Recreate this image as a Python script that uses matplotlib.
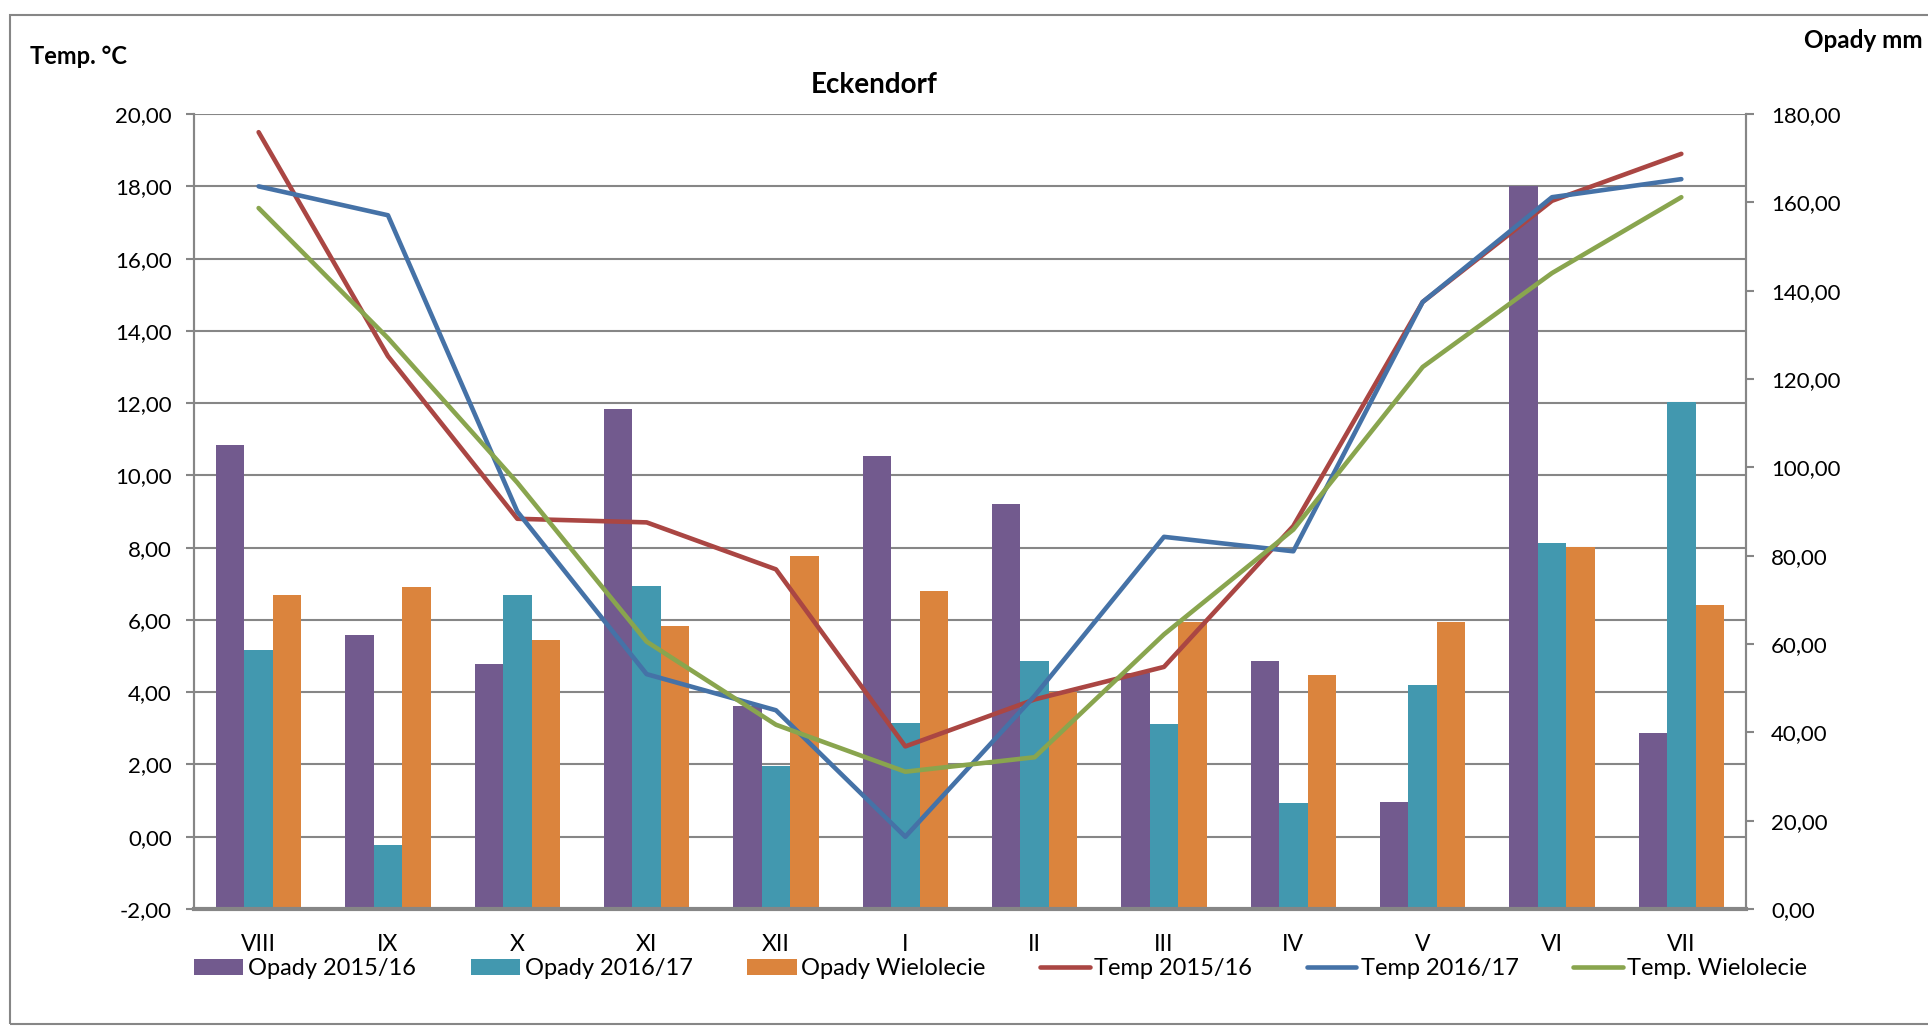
import numpy as np
import matplotlib.pyplot as plt
from matplotlib.patches import Rectangle

plt.rcParams['font.family'] = ['Lato', 'DejaVu Sans']

months = ['VIII', 'IX', 'X', 'XI', 'XII', 'I', 'II', 'III', 'IV', 'V', 'VI', 'VII']

# opady (mm) - prawa oś
opady_1516 = [105.1, 62.1, 55.4, 113.3, 45.9, 102.5, 91.8, 53.5, 56.1, 24.2, 163.7, 39.9]
opady_1617 = [58.6, 14.5, 71.1, 73.2, 32.4, 42.2, 56.2, 41.8, 24.0, 50.7, 82.9, 114.7]
opady_wiel = [71.1, 73.0, 61.0, 64.0, 80.0, 71.9, 49.1, 65.1, 53.0, 65.1, 81.9, 68.9]

# temperatura (C) - lewa oś
temp_1516 = [19.5, 13.3, 8.8, 8.7, 7.4, 2.5, 3.8, 4.7, 8.6, 14.8, 17.6, 18.9]
temp_1617 = [18.0, 17.2, 9.0, 4.5, 3.5, 0.0, 3.9, 8.3, 7.9, 14.8, 17.7, 18.2]
temp_wiel = [17.4, 13.8, 9.8, 5.4, 3.1, 1.8, 2.2, 5.6, 8.5, 13.0, 15.6, 17.7]

purple, teal, orange = '#725A8E', '#4298AF', '#DB843D'
red, blue, green = '#AA4643', '#4572A7', '#89A54E'
gray = '#868686'

fig = plt.figure(figsize=(19.28, 10.27), dpi=100)
ax = fig.add_axes([0.1006, 0.1149, 0.805, 0.774])
ax2 = ax.twinx()

x = np.arange(len(months))
w = 0.22

# gridlines (left axis positions) drawn under the bars
for t in np.arange(-2, 21, 2):
    ax2.axhline((t + 2) / 22 * 180, color=gray, lw=1.5, zorder=0)

b1 = ax2.bar(x - w, opady_1516, w, color=purple, zorder=2)
b2 = ax2.bar(x, opady_1617, w, color=teal, zorder=2)
b3 = ax2.bar(x + w, opady_wiel, w, color=orange, zorder=2)
ax2.set_ylim(0, 180)
ax2.set_yticks(np.arange(0, 181, 20))
ax2.set_yticklabels([f'{v:.2f}'.replace('.', ',') for v in np.arange(0, 181, 20)])

ax.set_zorder(ax2.get_zorder() + 1)
ax.patch.set_visible(False)
l1, = ax.plot(x, temp_1516, color=red, lw=3.3, solid_capstyle='round')
l2, = ax.plot(x, temp_1617, color=blue, lw=3.3, solid_capstyle='round')
l3, = ax.plot(x, temp_wiel, color=green, lw=3.3, solid_capstyle='round')
ax.set_ylim(-2, 20)
ax.set_yticks(np.arange(-2, 21, 2))
ax.set_yticklabels([f'{v:.2f}'.replace('.', ',') for v in np.arange(-2, 21, 2)])
ax.set_xlim(-0.5, 11.5)
ax.set_xticks(x)
ax.set_xticklabels(months)

for a in (ax, ax2):
    for s in a.spines.values():
        s.set_color(gray)
        s.set_linewidth(1.5)
    a.spines['top'].set_visible(False)
    a.tick_params(colors=gray, labelcolor='black', labelsize=16, width=1.5)
ax.spines['bottom'].set_linewidth(3)
ax2.spines['bottom'].set_visible(False)
ax.tick_params(axis='x', length=0, pad=18, labelsize=16.5)
ax.tick_params(axis='y', length=6, pad=10)
ax2.tick_params(axis='y', length=6, pad=12)

fig.text(0.4535, 0.917, 'Eckendorf', fontsize=20, fontweight='bold', ha='center', va='center')
fig.text(0.0156, 0.945, 'Temp. °C', fontsize=17, fontweight='bold', ha='left', va='center')
fig.text(0.997, 0.961, 'Opady mm', fontsize=17.5, fontweight='bold', ha='right', va='center')

fig.legend([b1, b2, b3, l1, l2, l3],
           ['Opady 2015/16', 'Opady 2016/17', 'Opady Wielolecie',
            'Temp 2015/16', 'Temp 2016/17', 'Temp. Wielolecie'],
           loc='center', bbox_to_anchor=(0.519, 0.0565), ncol=6, frameon=False,
           fontsize=17, handlelength=2.1, handletextpad=0.2, columnspacing=2.3)

fig.patches.append(Rectangle((10 / 1928, 3 / 1027), 1.0, 1 - 18 / 1027,
                             transform=fig.transFigure, fill=False,
                             edgecolor=gray, lw=1.5))

fig.savefig('out.png', dpi=100)
